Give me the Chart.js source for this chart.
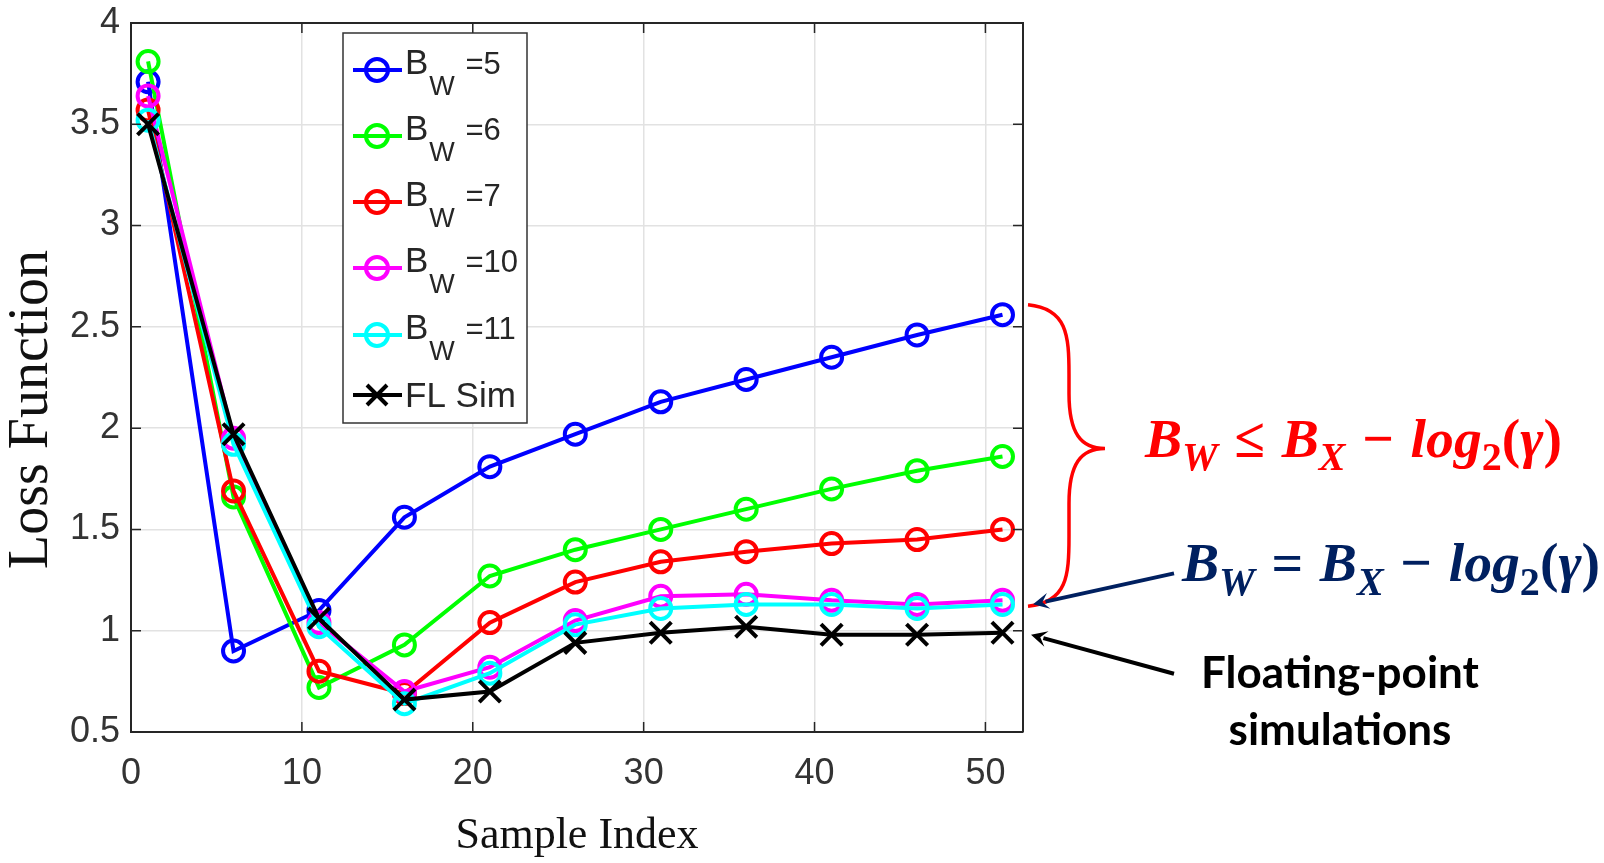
<!DOCTYPE html>
<html>
<head>
<meta charset="utf-8">
<script src="https://cdn.jsdelivr.net/npm/chart.js@4.4.0/dist/chart.umd.min.js"></script>
<style>
  html, body { margin: 0; padding: 0; background: #fff; }
  #wrap { width: 1604px; height: 863px; }
</style>
</head>
<body>
<div id="wrap"><canvas id="myChart" width="1604" height="863"></canvas></div>
<script>
// sample index on the x axis
const sampleIndex = [1, 6, 11, 16, 21, 26, 31, 36, 41, 46, 51];

// loss values
const loss_bw5  = [3.71, 0.90, 1.10, 1.56, 1.81, 1.97, 2.13, 2.24, 2.35, 2.46, 2.56];
const loss_bw6  = [3.81, 1.66, 0.72, 0.93, 1.27, 1.40, 1.50, 1.60, 1.70, 1.79, 1.86];
const loss_bw7  = [3.57, 1.69, 0.80, 0.69, 1.04, 1.24, 1.34, 1.39, 1.43, 1.45, 1.50];
const loss_bw10 = [3.64, 1.95, 1.04, 0.70, 0.82, 1.05, 1.17, 1.18, 1.15, 1.13, 1.15];
const loss_bw11 = [3.52, 1.92, 1.02, 0.64, 0.79, 1.03, 1.11, 1.13, 1.13, 1.11, 1.13];
const loss_fl   = [3.50, 1.97, 1.06, 0.66, 0.70, 0.94, 0.99, 1.02, 0.98, 0.98, 0.99];

const seriesLabels = ["B_W =5", "B_W =6", "B_W =7", "B_W =10", "B_W =11", "FL Sim"];
const seriesColors = ["#0000ff", "#00ff00", "#ff0000", "#ff00ff", "#00ffff", "#000000"];
const seriesValues = [loss_bw5, loss_bw6, loss_bw7, loss_bw10, loss_bw11, loss_fl];

const xTicks = [0, 10, 20, 30, 40, 50];
const yTicks = [0.5, 1, 1.5, 2, 2.5, 3, 3.5, 4];

const tickFont = '"Liberation Sans", Arial, sans-serif';
const serifFont = '"Liberation Serif", "Times New Roman", serif';
const mathFont = '"Liberation Serif", serif';

function toPoints(vals) {
  return sampleIndex.map((x, i) => ({ x: x, y: vals[i] }));
}

const datasets = seriesValues.map((vals, i) => {
  const isCross = i === 5;
  return {
    label: seriesLabels[i],
    data: toPoints(vals),
    borderColor: seriesColors[i],
    backgroundColor: "transparent",
    borderWidth: 4,
    pointStyle: isCross ? "crossRot" : "circle",
    pointRadius: isCross ? 15 : 10.5,
    pointBorderWidth: 4,
    pointBorderColor: seriesColors[i],
    pointBackgroundColor: "transparent",
    tension: 0,
    order: 5 - i
  };
});

// --- helpers for the drawn extras ---
function drawSubLabel(ctx, label, x, yc) {
  const m = label.match(/^(.*?)_(\w)(.*)$/);
  ctx.fillStyle = "#262626";
  ctx.textBaseline = "alphabetic";
  ctx.textAlign = "left";
  if (!m) {
    ctx.font = "35px " + tickFont;
    ctx.fillText(label, x, yc + 12);
    return;
  }
  ctx.font = "35px " + tickFont;
  ctx.fillText(m[1], x, yc + 4);
  let w = ctx.measureText(m[1]).width;
  ctx.font = "27px " + tickFont;
  ctx.fillText(m[2], x + w + 1, yc + 25);
  let w2 = ctx.measureText(m[2]).width;
  ctx.font = "31px " + tickFont;
  ctx.fillText(m[3], x + w + w2 + 3, yc + 4);
}

function drawLegend(chart) {
  const ctx = chart.ctx;
  const bx = 343, by = 33, bw = 184, bh = 390;
  ctx.save();
  ctx.fillStyle = "#fff";
  ctx.fillRect(bx, by, bw, bh);
  ctx.strokeStyle = "#333";
  ctx.lineWidth = 1.5;
  ctx.strokeRect(bx, by, bw, bh);
  const rows = [70, 136, 202, 268, 335, 395];
  chart.data.datasets.forEach((ds, i) => {
    const yc = rows[i];
    ctx.strokeStyle = ds.borderColor;
    ctx.lineWidth = 4;
    ctx.beginPath();
    ctx.moveTo(353, yc);
    ctx.lineTo(402, yc);
    ctx.stroke();
    ctx.beginPath();
    if (ds.pointStyle === "circle") {
      ctx.arc(377, yc, 11, 0, Math.PI * 2);
    } else {
      ctx.moveTo(367, yc - 10); ctx.lineTo(387, yc + 10);
      ctx.moveTo(387, yc - 10); ctx.lineTo(367, yc + 10);
    }
    ctx.stroke();
    drawSubLabel(ctx, ds.label, 405, yc);
  });
  ctx.restore();
}

// formula parts: [text, kind] ; kinds: i = italic, u = upright, s = italic subscript, d = upright subscript, g = gap
const formulaLe = [["B","i"],["W","s"],[" ","g"],["\u2264","u"],[" ","g"],["B","i"],["X","s"],[" ","g"],["\u2212","u"],[" ","g"],["log","i"],["2","d"],["(","u"],["\u03b3","i"],[")","u"]];
const formulaEq = [["B","i"],["W","s"],[" ","g"],["=","u"],[" ","g"],["B","i"],["X","s"],[" ","g"],["\u2212","u"],[" ","g"],["log","i"],["2","d"],["(","u"],["\u03b3","i"],[")","u"]];

function partFont(kind, size) {
  if (kind === "i") return "italic bold " + size + "px " + mathFont;
  if (kind === "s") return "italic bold " + (size * 0.72) + "px " + mathFont;
  if (kind === "d") return "bold " + (size * 0.72) + "px " + mathFont;
  return "bold " + size + "px " + mathFont;
}

function formulaWidth(ctx, parts, size) {
  let w = 0;
  parts.forEach(p => {
    if (p[1] === "g") { w += size * 0.3; return; }
    ctx.font = partFont(p[1], size);
    w += ctx.measureText(p[0]).width;
  });
  return w;
}

function drawFormula(ctx, parts, x, base, size, color) {
  ctx.fillStyle = color;
  ctx.textAlign = "left";
  ctx.textBaseline = "alphabetic";
  parts.forEach(p => {
    if (p[1] === "g") { x += size * 0.3; return; }
    ctx.font = partFont(p[1], size);
    const dy = (p[1] === "s" || p[1] === "d") ? size * 0.25 : 0;
    ctx.fillText(p[0], x, base + dy);
    x += ctx.measureText(p[0]).width;
  });
}

function arrow(ctx, x1, y1, x2, y2, color, lw) {
  const a = Math.atan2(y2 - y1, x2 - x1);
  const hl = 16, hw = 8;
  ctx.strokeStyle = color;
  ctx.fillStyle = color;
  ctx.lineWidth = lw;
  ctx.beginPath();
  ctx.moveTo(x1, y1);
  ctx.lineTo(x2 - Math.cos(a) * hl * 0.8, y2 - Math.sin(a) * hl * 0.8);
  ctx.stroke();
  ctx.beginPath();
  ctx.moveTo(x2, y2);
  ctx.lineTo(x2 - Math.cos(a) * hl - Math.sin(a) * hw, y2 - Math.sin(a) * hl + Math.cos(a) * hw);
  ctx.lineTo(x2 - Math.cos(a) * hl * 0.6, y2 - Math.sin(a) * hl * 0.6);
  ctx.lineTo(x2 - Math.cos(a) * hl + Math.sin(a) * hw, y2 - Math.sin(a) * hl - Math.cos(a) * hw);
  ctx.closePath();
  ctx.fill();
}

function drawAnnotations(chart) {
  const ctx = chart.ctx;
  const ys = chart.scales.y;
  const xr = chart.chartArea.right;
  const last = sampleIndex.length - 1;
  ctx.save();

  // red curly brace spanning the quantised curves
  const yTop = ys.getPixelForValue(loss_bw5[last]) - 10;
  const yBot = ys.getPixelForValue(loss_bw10[last]) + 6;
  const yMid = (yTop + yBot) / 2 - 7;
  const x0 = xr + 5, xm = xr + 46, xt = xr + 82;
  ctx.strokeStyle = "#ff0000";
  ctx.lineWidth = 3.5;
  ctx.beginPath();
  ctx.moveTo(x0, yTop);
  ctx.bezierCurveTo(xm - 2, yTop + 4, xm, yTop + 30, xm, yTop + 70);
  ctx.lineTo(xm, yMid - 55);
  ctx.bezierCurveTo(xm, yMid - 15, xm + 12, yMid, xt, yMid);
  ctx.bezierCurveTo(xm + 12, yMid, xm, yMid + 15, xm, yMid + 55);
  ctx.lineTo(xm, yBot - 70);
  ctx.bezierCurveTo(xm, yBot - 30, xm - 2, yBot - 4, x0, yBot);
  ctx.stroke();

  // formulas
  const size0 = 44;
  const w0 = formulaWidth(ctx, formulaLe, size0);
  const size = size0 * 417 / w0;
  drawFormula(ctx, formulaLe, xr + 122, yMid + 8, size, "#ff0000");
  drawFormula(ctx, formulaEq, xr + 159, ys.getPixelForValue(loss_bw10[last]) - 19, size, "#002060");

  // arrows
  const yNavy = ys.getPixelForValue(loss_bw10[last]) + 4;
  arrow(ctx, xr + 151, yNavy - 31, xr + 10, yNavy, "#002060", 4);
  const yBlack = ys.getPixelForValue(loss_fl[last]) + 2;
  arrow(ctx, xr + 151, yBlack + 39, xr + 8, yBlack, "#000000", 4);

  // floating-point label
  ctx.fillStyle = "#000";
  ctx.textAlign = "center";
  ctx.textBaseline = "alphabetic";
  ctx.font = "bold 44px Lato, sans-serif";
  ctx.fillText("Floating-point", xr + 317, yBlack + 53);
  ctx.fillText("simulations", xr + 317, yBlack + 110);
  ctx.restore();
}

// y title sits a little below the axis centre in the original figure
function drawYTitle(chart) {
  const ctx = chart.ctx;
  const a = chart.chartArea;
  ctx.save();
  ctx.translate(32, (a.top + a.bottom) / 2 + 32);
  ctx.rotate(-Math.PI / 2);
  ctx.fillStyle = "#111";
  ctx.font = "56px " + serifFont;
  ctx.textAlign = "center";
  ctx.textBaseline = "middle";
  ctx.fillText("Loss Function", 0, 0);
  ctx.restore();
}

const boxPlugin = {
  id: "matlabBox",
  afterDraw(chart) {
    const ctx = chart.ctx;
    const a = chart.chartArea;
    const xs = chart.scales.x, ys = chart.scales.y;
    ctx.save();
    ctx.strokeStyle = "#262626";
    ctx.lineWidth = 2;
    ctx.beginPath();
    ctx.moveTo(a.left, a.top); ctx.lineTo(a.right, a.top); ctx.lineTo(a.right, a.bottom);
    ctx.stroke();
    // inward ticks on all four sides
    ctx.lineWidth = 1.5;
    ctx.beginPath();
    xTicks.forEach(v => {
      const px = xs.getPixelForValue(v);
      ctx.moveTo(px, a.bottom); ctx.lineTo(px, a.bottom - 10);
      ctx.moveTo(px, a.top); ctx.lineTo(px, a.top + 10);
    });
    yTicks.forEach(v => {
      const py = ys.getPixelForValue(v);
      ctx.moveTo(a.left, py); ctx.lineTo(a.left + 10, py);
      ctx.moveTo(a.right, py); ctx.lineTo(a.right - 10, py);
    });
    ctx.stroke();
    ctx.restore();
    drawYTitle(chart);
    drawLegend(chart);
    drawAnnotations(chart);
  }
};

const ctx = document.getElementById("myChart").getContext("2d");

const chart1 = new Chart(ctx, {
  type: "line",
  data: { datasets: datasets },
  options: {
    responsive: false,
    animation: false,
    devicePixelRatio: 1,
    layout: { padding: { left: 0, right: 581, top: 23, bottom: 0 } },
    plugins: { legend: { display: false }, tooltip: { enabled: false } },
    scales: {
      x: {
        type: "linear",
        min: 0,
        max: 52.2,
        afterBuildTicks: s => { s.ticks = xTicks.map(v => ({ value: v })); },
        afterFit: s => { s.height = 131; s.paddingLeft = 0; s.paddingRight = 0; },
        grid: { color: "#e2e2e2", lineWidth: 1.5, drawTicks: false },
        border: { display: true, color: "#262626", width: 2 },
        ticks: { padding: 20, color: "#333", font: { family: tickFont, size: 36 }, callback: v => String(v) },
        title: { display: true, text: "Sample Index", color: "#111", font: { family: serifFont, size: 44 }, padding: { top: 0, bottom: 0 } }
      },
      y: {
        type: "linear",
        min: 0.5,
        max: 4,
        afterBuildTicks: s => { s.ticks = yTicks.map(v => ({ value: v })); },
        afterFit: s => { s.width = 131; s.paddingTop = 0; s.paddingBottom = 0; },
        grid: { color: "#e2e2e2", lineWidth: 1.5, drawTicks: false },
        border: { display: true, color: "#262626", width: 2 },
        ticks: { padding: 11, color: "#333", font: { family: tickFont, size: 36 }, callback: v => String(v) },
        title: { display: false }
      }
    }
  },
  plugins: [boxPlugin]
});
</script>
</body>
</html>
